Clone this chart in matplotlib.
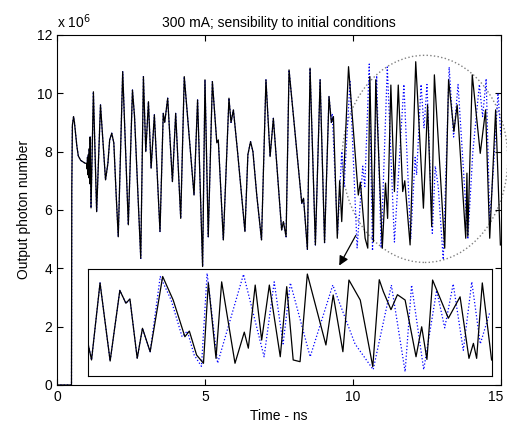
import numpy as np
import matplotlib.pyplot as plt
from matplotlib.patches import Ellipse
from matplotlib.transforms import ScaledTranslation

plt.rcParams['font.family'] = ['Liberation Sans', 'DejaVu Sans']

# main trajectory (black), time in ns, photon number in units of 1e6
time_ns = [0.0, 0.49, 0.50, 0.52, 0.56, 0.59, 0.63, 0.67, 0.72, 0.80, 0.95, 1.00,
           1.02, 1.03, 1.05, 1.06, 1.08, 1.09, 1.11, 1.12, 1.15, 1.23, 1.34, 1.47,
           1.64, 1.72, 1.78, 1.85, 1.92, 2.00, 2.07, 2.22, 2.41, 2.55, 2.62, 2.83,
           2.92, 3.00, 3.09, 3.18, 3.29, 3.48, 3.59, 3.64, 3.74, 3.90, 4.01, 4.18,
           4.30, 4.63, 4.75, 4.92, 5.00, 5.11, 5.25, 5.40, 5.45, 5.62, 5.81, 5.88,
           5.96, 6.10, 6.35, 6.45, 6.54, 6.62, 6.75, 6.91, 7.06, 7.20, 7.31, 7.59,
           7.65, 7.74, 7.84, 8.27, 8.33, 8.46, 8.55, 8.73, 8.89, 9.04, 9.19, 9.27,
           9.34, 9.47, 9.55, 9.62, 9.85, 10.18, 10.25, 10.41, 10.50, 10.57, 10.69,
           10.77, 10.99, 11.10, 11.17, 11.28, 11.40, 11.53, 11.68, 11.75, 11.93,
           12.12, 12.38, 12.52, 12.66, 12.75, 13.10, 13.23, 13.41, 13.52, 13.81,
           13.85, 13.88, 14.03, 14.30, 14.48, 14.62, 14.82, 14.98]
photons_1e6 = [0.0, 0.0, 6.7, 8.9, 9.2, 9.0, 8.6, 8.2, 7.85, 7.7, 7.6, 7.6,
               7.4, 7.8, 7.2, 7.9, 7.1, 8.1, 6.9, 8.5, 6.07, 10.05, 5.94, 9.6,
               7.03, 7.6, 8.4, 8.63, 8.3, 6.5, 5.08, 10.74, 5.49, 10.11, 9.2, 4.34,
               10.57, 8.0, 9.71, 7.43, 9.26, 5.26, 9.31, 9.0, 9.83, 6.97, 9.31, 5.71,
               10.57, 6.51, 9.77, 4.06, 10.46, 5.08, 10.4, 8.3, 8.4, 4.97, 9.83, 9.0,
               9.43, 8.0, 5.26, 7.9, 8.34, 8.0, 6.5, 4.97, 10.46, 7.83, 9.14, 5.31,
               5.6, 5.08, 10.8, 6.23, 6.4, 4.65, 10.86, 4.8, 10.46, 4.88, 9.89, 9.0,
               9.2, 5.03, 7.0, 5.6, 10.91, 6.51, 6.95, 5.03, 4.69, 10.57, 4.91,
               10.46, 4.69, 6.92, 5.71, 10.28, 6.63, 10.28, 6.63, 7.0, 4.8,
               11.08, 6.06, 9.6, 5.43, 10.63, 4.69, 10.46, 8.69, 9.6, 5.03,
               7.26, 5.1, 10.63, 7.94, 9.43, 5.03, 9.43, 4.8]

# perturbed trajectory (blue dotted) after it leaves the main one
div_time_ns = [9.30, 9.48, 9.62, 9.70, 9.90, 10.14, 10.33, 10.40, 10.55, 10.66,
               10.80, 10.95, 11.16, 11.40, 11.72, 11.95, 12.10, 12.15, 12.30, 12.40,
               12.50, 12.68, 12.78, 12.88, 13.05, 13.25, 13.40, 13.55, 13.88, 14.05,
               14.27, 14.38, 14.50, 14.62, 14.75, 14.90, 15.00]
div_photons_1e6 = [9.3, 5.2, 8.0, 6.8, 10.4, 4.7, 7.5, 6.8, 11.0, 4.6,
                   10.6, 4.7, 10.9, 4.9, 10.3, 5.0, 7.8, 7.2, 10.3, 8.8,
                   10.3, 5.2, 7.5, 6.8, 4.3, 10.9, 8.5, 10.3, 5.0, 8.0,
                   10.3, 9.2, 10.5, 5.6, 7.5, 10.0, 8.5]

# zoomed window (fractions of the inset box)
zoom_u = [0.0, 0.008, 0.029, 0.054, 0.078, 0.093, 0.103, 0.121, 0.134, 0.153,
          0.184, 0.21, 0.239, 0.25, 0.268, 0.285, 0.297, 0.316, 0.33, 0.363,
          0.386, 0.396, 0.413, 0.429, 0.448, 0.475, 0.491, 0.507, 0.524, 0.542,
          0.588, 0.606, 0.63, 0.645, 0.673, 0.704, 0.72, 0.73, 0.749, 0.765,
          0.784, 0.811, 0.825, 0.838, 0.852, 0.891, 0.92, 0.942, 0.953, 0.961,
          0.975, 0.998]
zoom_v = [0.29, 0.15, 0.87, 0.14, 0.80, 0.68, 0.72, 0.165, 0.446, 0.227,
          0.93, 0.71, 0.367, 0.42, 0.196, 0.119, 0.87, 0.165, 0.88, 0.119,
          0.41, 0.26, 0.85, 0.336, 0.85, 0.18, 0.835, 0.15, 0.134, 0.953,
          0.29, 0.757, 0.227, 0.897, 0.71, 0.087, 0.90, 0.79, 0.62, 0.76,
          0.71, 0.18, 0.46, 0.155, 0.897, 0.54, 0.74, 0.165, 0.305, 0.165,
          0.87, 0.15]
zoom_div_u = [0.0, 0.008, 0.029, 0.054, 0.078, 0.093, 0.103, 0.121, 0.134, 0.153,
              0.178, 0.205, 0.232, 0.245, 0.262, 0.28, 0.294, 0.32, 0.384, 0.435,
              0.46, 0.482, 0.50, 0.549, 0.605, 0.66, 0.705, 0.75, 0.784, 0.80,
              0.83, 0.862, 0.882, 0.903, 0.928, 0.949, 0.97, 0.994]
zoom_div_v = [0.29, 0.15, 0.87, 0.14, 0.80, 0.68, 0.72, 0.165, 0.446, 0.227,
              0.93, 0.71, 0.367, 0.42, 0.196, 0.09, 0.96, 0.12, 0.95, 0.18,
              0.88, 0.30, 0.87, 0.18, 0.85, 0.30, 0.06, 0.85, 0.04, 0.85,
              0.06, 0.80, 0.45, 0.86, 0.24, 0.88, 0.30, 0.60]

t = np.array(time_ns)
p = np.array(photons_1e6)
blue_t = np.concatenate([t[t < 9.3], div_time_ns])
blue_p = np.concatenate([p[t < 9.3], div_photons_1e6])

fig = plt.figure(figsize=(5.07, 4.36), dpi=100)
ax = fig.add_axes([0.1124, 0.117, 0.8757, 0.803])
ax.plot(blue_t, blue_p, color='blue', ls=':', lw=0.9)
ax.plot(t, p, color='black', lw=0.9)
ax.set_xlim(0, 15)
ax.set_ylim(0, 12)
ax.set_xticks([0, 5, 10, 15])
ax.set_yticks(range(0, 13, 2))
ax.tick_params(direction='in', top=True, right=True, length=4, labelsize=10)
# keep the last x label inside the figure
last = ax.get_xticklabels()[-1]
last.set_transform(last.get_transform() + ScaledTranslation(-5 / 100, 0, fig.dpi_scale_trans))
ax.set_xlabel('Time - ns', fontsize=10)
ax.set_ylabel('Output photon number', fontsize=10)
ax.set_title('300 mA; sensibility to initial conditions', fontsize=10, pad=6)
ax.text(0.0, 1.012, r'x 10$^6$', transform=ax.transAxes, fontsize=10, va='bottom')

ax.add_patch(Ellipse((12.43, 7.75), 5.6, 7.1, fill=False, ls=':',
                     edgecolor='gray', lw=1, clip_on=False))
ax.annotate('', xy=(9.49, 4.01), xytext=(10.14, 5.21),
            arrowprops=dict(arrowstyle='-|>', color='black', lw=0.9,
                            mutation_scale=14))

ins = fig.add_axes([0.1742, 0.1376, 0.797, 0.2454])
ins.plot(zoom_div_u, zoom_div_v, color='blue', ls=':', lw=0.9)
ins.plot(zoom_u, zoom_v, color='black', lw=0.9)
ins.set_xlim(0, 1)
ins.set_ylim(0, 1)
ins.set_xticks([])
ins.set_yticks([])

plt.savefig('out.png', dpi=100)
